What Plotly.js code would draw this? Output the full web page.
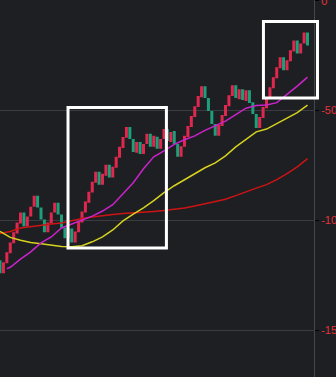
<!DOCTYPE html>
<html>
<head>
<meta charset="utf-8">
<script src="https://cdn.plot.ly/plotly-3.0.1.min.js"></script>
<style>
html,body{margin:0;padding:0;background:#1e1f23;}
#chart{width:336px;height:377px;}
</style>
</head>
<body>
<div id="chart"></div>
<script>
// Candle bodies (no visible wicks): open / high / low / close
const openV = [
-118.1,-124.0,-119.5,-114.9,-110.4,-105.9,-101.4,-96.4,-102.7,-98.2,
-93.7,-88.7,-94.1,-99.5,-105.4,-101.4,-96.4,-91.9,-97.3,-103.2,
-108.1,-103.6,-110.0,-105.4,-100.9,-96.4,-91.9,-87.3,-82.8,-77.8,
-83.7,-79.6,-74.7,-80.5,-76.0,-71.5,-67.0,-62.4,-57.5,-62.9,
-69.2,-64.3,-69.7,-65.2,-60.6,-66.5,-61.9,-67.4,-62.9,-58.4,
-64.3,-59.3,-65.2,-71.0,-66.5,-62.0,-57.5,-52.9,-48.4,-43.9,
-38.9,-44.3,-50.2,-56.1,-61.5,-57.0,-52.5,-48.0,-43.4,-38.5,
-44.8,-40.3,-45.7,-40.7,-46.2,-51.6,-57.9,-53.4,-48.9,-44.3,
-39.8,-35.3,-30.8,-25.8,-31.7,-27.6,-23.1,-18.1,-24.0,-19.5,
-14.5
];
const closeV = [
-124.0,-119.0,-114.5,-110.0,-105.4,-100.9,-96.4,-102.7,-98.2,-93.7,
-88.7,-94.1,-99.5,-105.4,-100.9,-96.4,-91.9,-97.3,-103.2,-108.1,
-103.6,-110.0,-105.0,-100.5,-95.9,-91.4,-86.9,-82.4,-77.8,-83.7,
-78.7,-74.7,-80.5,-75.6,-71.0,-66.5,-62.0,-57.5,-62.9,-68.8,
-64.3,-69.7,-65.2,-60.6,-66.5,-61.5,-67.4,-62.9,-58.4,-63.8,
-59.7,-65.2,-71.0,-66.2,-61.5,-57.0,-52.5,-48.0,-43.4,-38.9,
-44.3,-50.2,-56.1,-61.5,-56.6,-52.0,-47.5,-43.0,-38.5,-44.3,
-40.3,-45.2,-40.7,-46.6,-51.6,-57.9,-52.9,-48.4,-43.9,-39.4,
-34.8,-30.3,-25.8,-31.7,-27.1,-22.6,-18.1,-24.0,-19.5,-14.5,
-20.4
];
const highV = [
-118.1,-119.0,-114.5,-110.0,-105.4,-100.9,-96.4,-96.4,-98.2,-93.7,
-88.7,-88.7,-94.1,-99.5,-100.9,-96.4,-91.9,-91.9,-97.3,-103.2,
-103.6,-103.6,-105.0,-100.5,-95.9,-91.4,-86.9,-82.4,-77.8,-77.8,
-78.7,-74.7,-74.7,-75.6,-71.0,-66.5,-62.0,-57.5,-57.5,-62.9,
-64.3,-64.3,-65.2,-60.6,-60.6,-61.5,-61.9,-62.9,-58.4,-58.4,
-59.7,-59.3,-65.2,-66.2,-61.5,-57.0,-52.5,-48.0,-43.4,-38.9,
-38.9,-44.3,-50.2,-56.1,-56.6,-52.0,-47.5,-43.0,-38.5,-38.5,
-40.3,-40.3,-40.7,-40.7,-46.2,-51.6,-52.9,-48.4,-43.9,-39.4,
-34.8,-30.3,-25.8,-25.8,-27.1,-22.6,-18.1,-18.1,-19.5,-14.5,
-14.5
];
const lowV = [
-124.0,-124.0,-119.5,-114.9,-110.4,-105.9,-101.4,-102.7,-102.7,-98.2,
-93.7,-94.1,-99.5,-105.4,-105.4,-101.4,-96.4,-97.3,-103.2,-108.1,
-108.1,-110.0,-110.0,-105.4,-100.9,-96.4,-91.9,-87.3,-82.8,-83.7,
-83.7,-79.6,-80.5,-80.5,-76.0,-71.5,-67.0,-62.4,-62.9,-68.8,
-69.2,-69.7,-69.7,-65.2,-66.5,-66.5,-67.4,-67.4,-62.9,-63.8,
-64.3,-65.2,-71.0,-71.0,-66.5,-62.0,-57.5,-52.9,-48.4,-43.9,
-44.3,-50.2,-56.1,-61.5,-61.5,-57.0,-52.5,-48.0,-43.4,-44.3,
-44.8,-45.2,-45.7,-46.6,-51.6,-57.9,-57.9,-53.4,-48.9,-44.3,
-39.8,-35.3,-30.8,-31.7,-31.7,-27.6,-23.1,-24.0,-24.0,-19.5,
-20.4
];
const candleIdx = openV.map((_, i) => i);

// Moving-average lines (sampled every 3 candles)
const maFastX = [2,3,6,9,12,15,18,21,24,27,30,33,36,39,42,45,48,51,54,57,60,63,66,69,72,75,78,81,84,87,90];
const maFastY = [-121.9,-121.3,-117.6,-114.3,-110.2,-107.5,-103.4,-101.6,-100.0,-98.0,-95.7,-92.8,-87.8,-82.8,-76.5,-71.0,-68.3,-65.4,-63.3,-61.5,-59.0,-57.0,-54.8,-51.8,-48.9,-47.7,-47.5,-46.4,-42.8,-38.9,-34.8];
const maMidX = [0,3,6,9,12,15,18,21,24,27,30,33,36,39,42,45,48,51,54,57,60,63,66,69,72,75,78,81,84,87,90];
const maMidY = [-105.0,-107.7,-109.0,-110.0,-110.6,-111.3,-111.8,-112.0,-111.5,-109.7,-107.5,-104.3,-100.2,-97.1,-94.3,-91.0,-87.3,-84.2,-81.4,-78.5,-76.0,-73.8,-70.6,-66.5,-62.9,-59.7,-58.4,-55.9,-53.4,-50.9,-47.5];
const maSlowX = [0,3,6,9,12,15,18,21,24,27,30,33,36,39,42,45,48,51,54,57,60,63,66,69,72,75,78,81,84,87,90];
const maSlowY = [-105.9,-105.0,-103.4,-102.7,-102.0,-101.6,-101.1,-100.0,-99.1,-98.4,-97.7,-97.3,-96.8,-96.6,-96.4,-95.9,-95.5,-95.0,-94.3,-93.4,-92.3,-91.4,-90.3,-88.7,-86.9,-85.3,-83.7,-81.4,-78.7,-75.6,-71.9];

const tickVals = [0, -50, -100, -150];
const tickText = ['0', '-50', '-100', '-150'];

const traces = [
  {
    type: 'candlestick',
    x: candleIdx, open: openV, high: highV, low: lowV, close: closeV,
    increasing: {line: {color: '#e0284f', width: 0}, fillcolor: '#e0284f'},
    decreasing: {line: {color: '#1f9e7a', width: 0}, fillcolor: '#1f9e7a'},
    whiskerwidth: 0,
    hoverinfo: 'skip', showlegend: false
  },
  {type: 'scatter', mode: 'lines', x: maSlowX, y: maSlowY,
   line: {color: '#cc1414', width: 1.5}, hoverinfo: 'skip', showlegend: false},
  {type: 'scatter', mode: 'lines', x: maMidX, y: maMidY,
   line: {color: '#d6d21e', width: 1.5}, hoverinfo: 'skip', showlegend: false},
  {type: 'scatter', mode: 'lines', x: maFastX, y: maFastY,
   line: {color: '#cc22cc', width: 1.5}, hoverinfo: 'skip', showlegend: false}
];

const layout = {
  width: 336, height: 377,
  margin: {l: 0, r: 22, t: 0, b: 0, pad: 0},
  paper_bgcolor: '#1e1f23',
  plot_bgcolor: '#1e1f23',
  showlegend: false,
  boxgap: 0.12, boxgroupgap: 0,
  xaxis: {
    range: [0, 91.9], showgrid: false, zeroline: false,
    showticklabels: false, ticks: '', showline: false,
    rangeslider: {visible: false}, fixedrange: true
  },
  yaxis: {
    side: 'right', range: [-171.2, 0.3],
    tickvals: tickVals, ticktext: tickText,
    ticklabeloverflow: 'allow',
    showgrid: true, gridcolor: '#3b3c41', gridwidth: 1,
    zeroline: false,
    showline: true, linecolor: '#46474c', linewidth: 1,
    ticks: 'outside', ticklen: 4, tickcolor: '#000000', tickwidth: 1,
    tickfont: {color: '#e5323c', size: 11, family: 'Liberation Sans, Arial, sans-serif'},
    fixedrange: true
  },
  shapes: [
    {type: 'rect', xref: 'paper', yref: 'paper',
     x0: 0.2166, x1: 0.530, y0: 0.3422, y1: 0.7149,
     line: {color: '#ffffff', width: 3}, fillcolor: 'rgba(0,0,0,0)', layer: 'above'},
    {type: 'rect', xref: 'paper', yref: 'paper',
     x0: 0.839, x1: 1.0111, y0: 0.740, y1: 0.943,
     line: {color: '#ffffff', width: 3}, fillcolor: 'rgba(0,0,0,0)', layer: 'above'}
  ]
};

Plotly.newPlot('chart', traces, layout, {displayModeBar: false, staticPlot: true});
</script>
</body>
</html>
